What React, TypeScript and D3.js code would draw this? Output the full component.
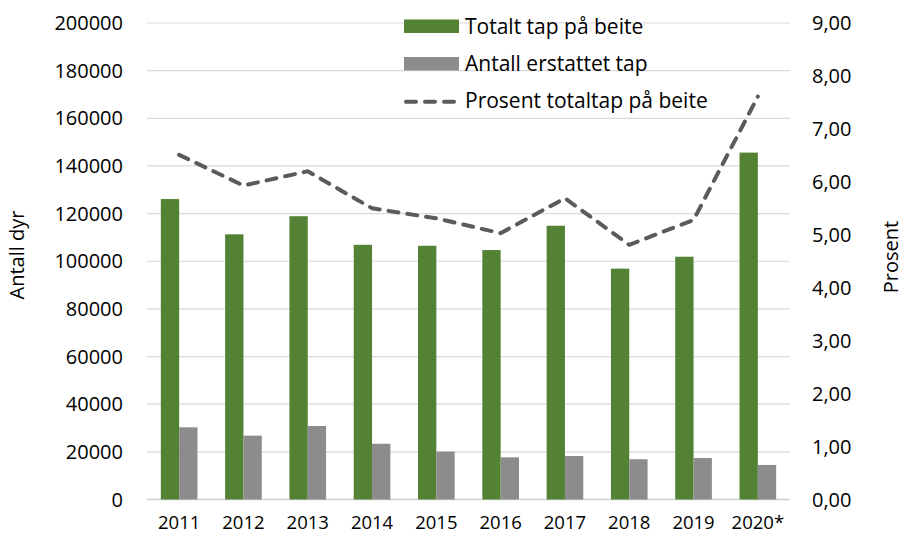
import React from "react";
import * as d3 from "d3";

// values
const years = ["2011", "2012", "2013", "2014", "2015", "2016", "2017", "2018", "2019", "2020*"];
const totaltTap = [126100, 111300, 118900, 106900, 106500, 104700, 114900, 96900, 101900, 145600];
const erstattetTap = [30300, 26800, 30850, 23400, 20100, 17700, 18250, 16900, 17400, 14500];
const prosentTap = [6.51, 5.93, 6.2, 5.5, 5.31, 5.03, 5.69, 4.81, 5.28, 7.61];
const leftTicks = [0, 20000, 40000, 60000, 80000, 100000, 120000, 140000, 160000, 180000, 200000];
const rightTicks = [0, 1, 2, 3, 4, 5, 6, 7, 8, 9];
const legendLabels = ["Totalt tap på beite", "Antall erstattet tap", "Prosent totaltap på beite"];

const W = 903;
const H = 534;
const green = "#548235";
const grey = "#8c8c8c";
const lineColor = "#5b5b5b";
const font = "'Open Sans', sans-serif";

export default function App() {
  // plot area
  const left = 147, right = 790, top = 23, bottom = 499.5;

  const x = d3.scaleBand<string>().domain(years).range([left, right]);
  const yL = d3.scaleLinear().domain([0, 200000]).range([bottom, top]);
  const yR = d3.scaleLinear().domain([0, 9]).range([bottom, top]);
  const bw = x.bandwidth() * 0.285;
  const cx = (d: string) => (x(d) as number) + x.bandwidth() / 2;

  const line = d3.line<number>()
    .x((_, i) => cx(years[i]))
    .y(d => yR(d));

  const fmtR = (v: number) => v.toFixed(2).replace(".", ",");

  return (
    <svg width={W} height={H} style={{position: "absolute", left: 0, top: 0, background: "#fff"}}
      fontFamily={font}>
      {/* gridlines */}
      <g>
        {leftTicks.map(t => (
          <line key={t} x1={left} x2={right} y1={yL(t)} y2={yL(t)}
            stroke={t === 0 ? "#d0d0d0" : "#d9d9d9"} strokeWidth={t === 0 ? 1.6 : 1.2} />
        ))}
      </g>

      {/* bars */}
      <g>
        {years.map((yr, i) => (
          <g key={yr}>
            <rect x={cx(yr) - bw} y={yL(totaltTap[i])} width={bw} height={bottom - yL(totaltTap[i])} fill={green} />
            <rect x={cx(yr)} y={yL(erstattetTap[i])} width={bw} height={bottom - yL(erstattetTap[i])} fill={grey} />
          </g>
        ))}
      </g>

      {/* percentage line */}
      <path d={line(prosentTap) ?? ""} fill="none" stroke={lineColor} strokeWidth={4}
        strokeDasharray="10 9" strokeLinecap="round" strokeLinejoin="round" />

      {/* left axis labels */}
      <g fontSize={20} fill="#000" textAnchor="end">
        {leftTicks.map(t => (
          <text key={t} x={123} y={yL(t)} dy="0.35em">{t}</text>
        ))}
      </g>

      {/* right axis labels */}
      <g fontSize={20} fill="#000" textAnchor="start">
        {rightTicks.map(t => (
          <text key={t} x={812} y={yR(t)} dy="0.35em">{fmtR(t)}</text>
        ))}
      </g>

      {/* category labels */}
      <g fontSize={18.5} fill="#000" textAnchor="middle">
        {years.map(yr => (
          <text key={yr} x={cx(yr)} y={529}>{yr}</text>
        ))}
      </g>

      {/* axis titles */}
      <text transform="translate(24,255) rotate(-90)" textAnchor="middle" fontSize={20}>Antall dyr</text>
      <text transform="translate(898,257) rotate(-90)" textAnchor="middle" fontSize={20}>Prosent</text>

      {/* legend */}
      <g fontSize={21}>
        <rect x={404} y={19.5} width={55} height={13.5} fill={green} />
        <text x={465} y={26.5} dy="0.35em">{legendLabels[0]}</text>
        <rect x={404} y={57} width={55} height={13.5} fill={grey} />
        <text x={465} y={63.5} dy="0.35em">{legendLabels[1]}</text>
        <line x1={406} x2={455} y1={101.7} y2={101.7} stroke={lineColor} strokeWidth={4}
          strokeDasharray="10 9" strokeLinecap="round" />
        <text x={465} y={101} dy="0.35em">{legendLabels[2]}</text>
      </g>
    </svg>
  );
}
